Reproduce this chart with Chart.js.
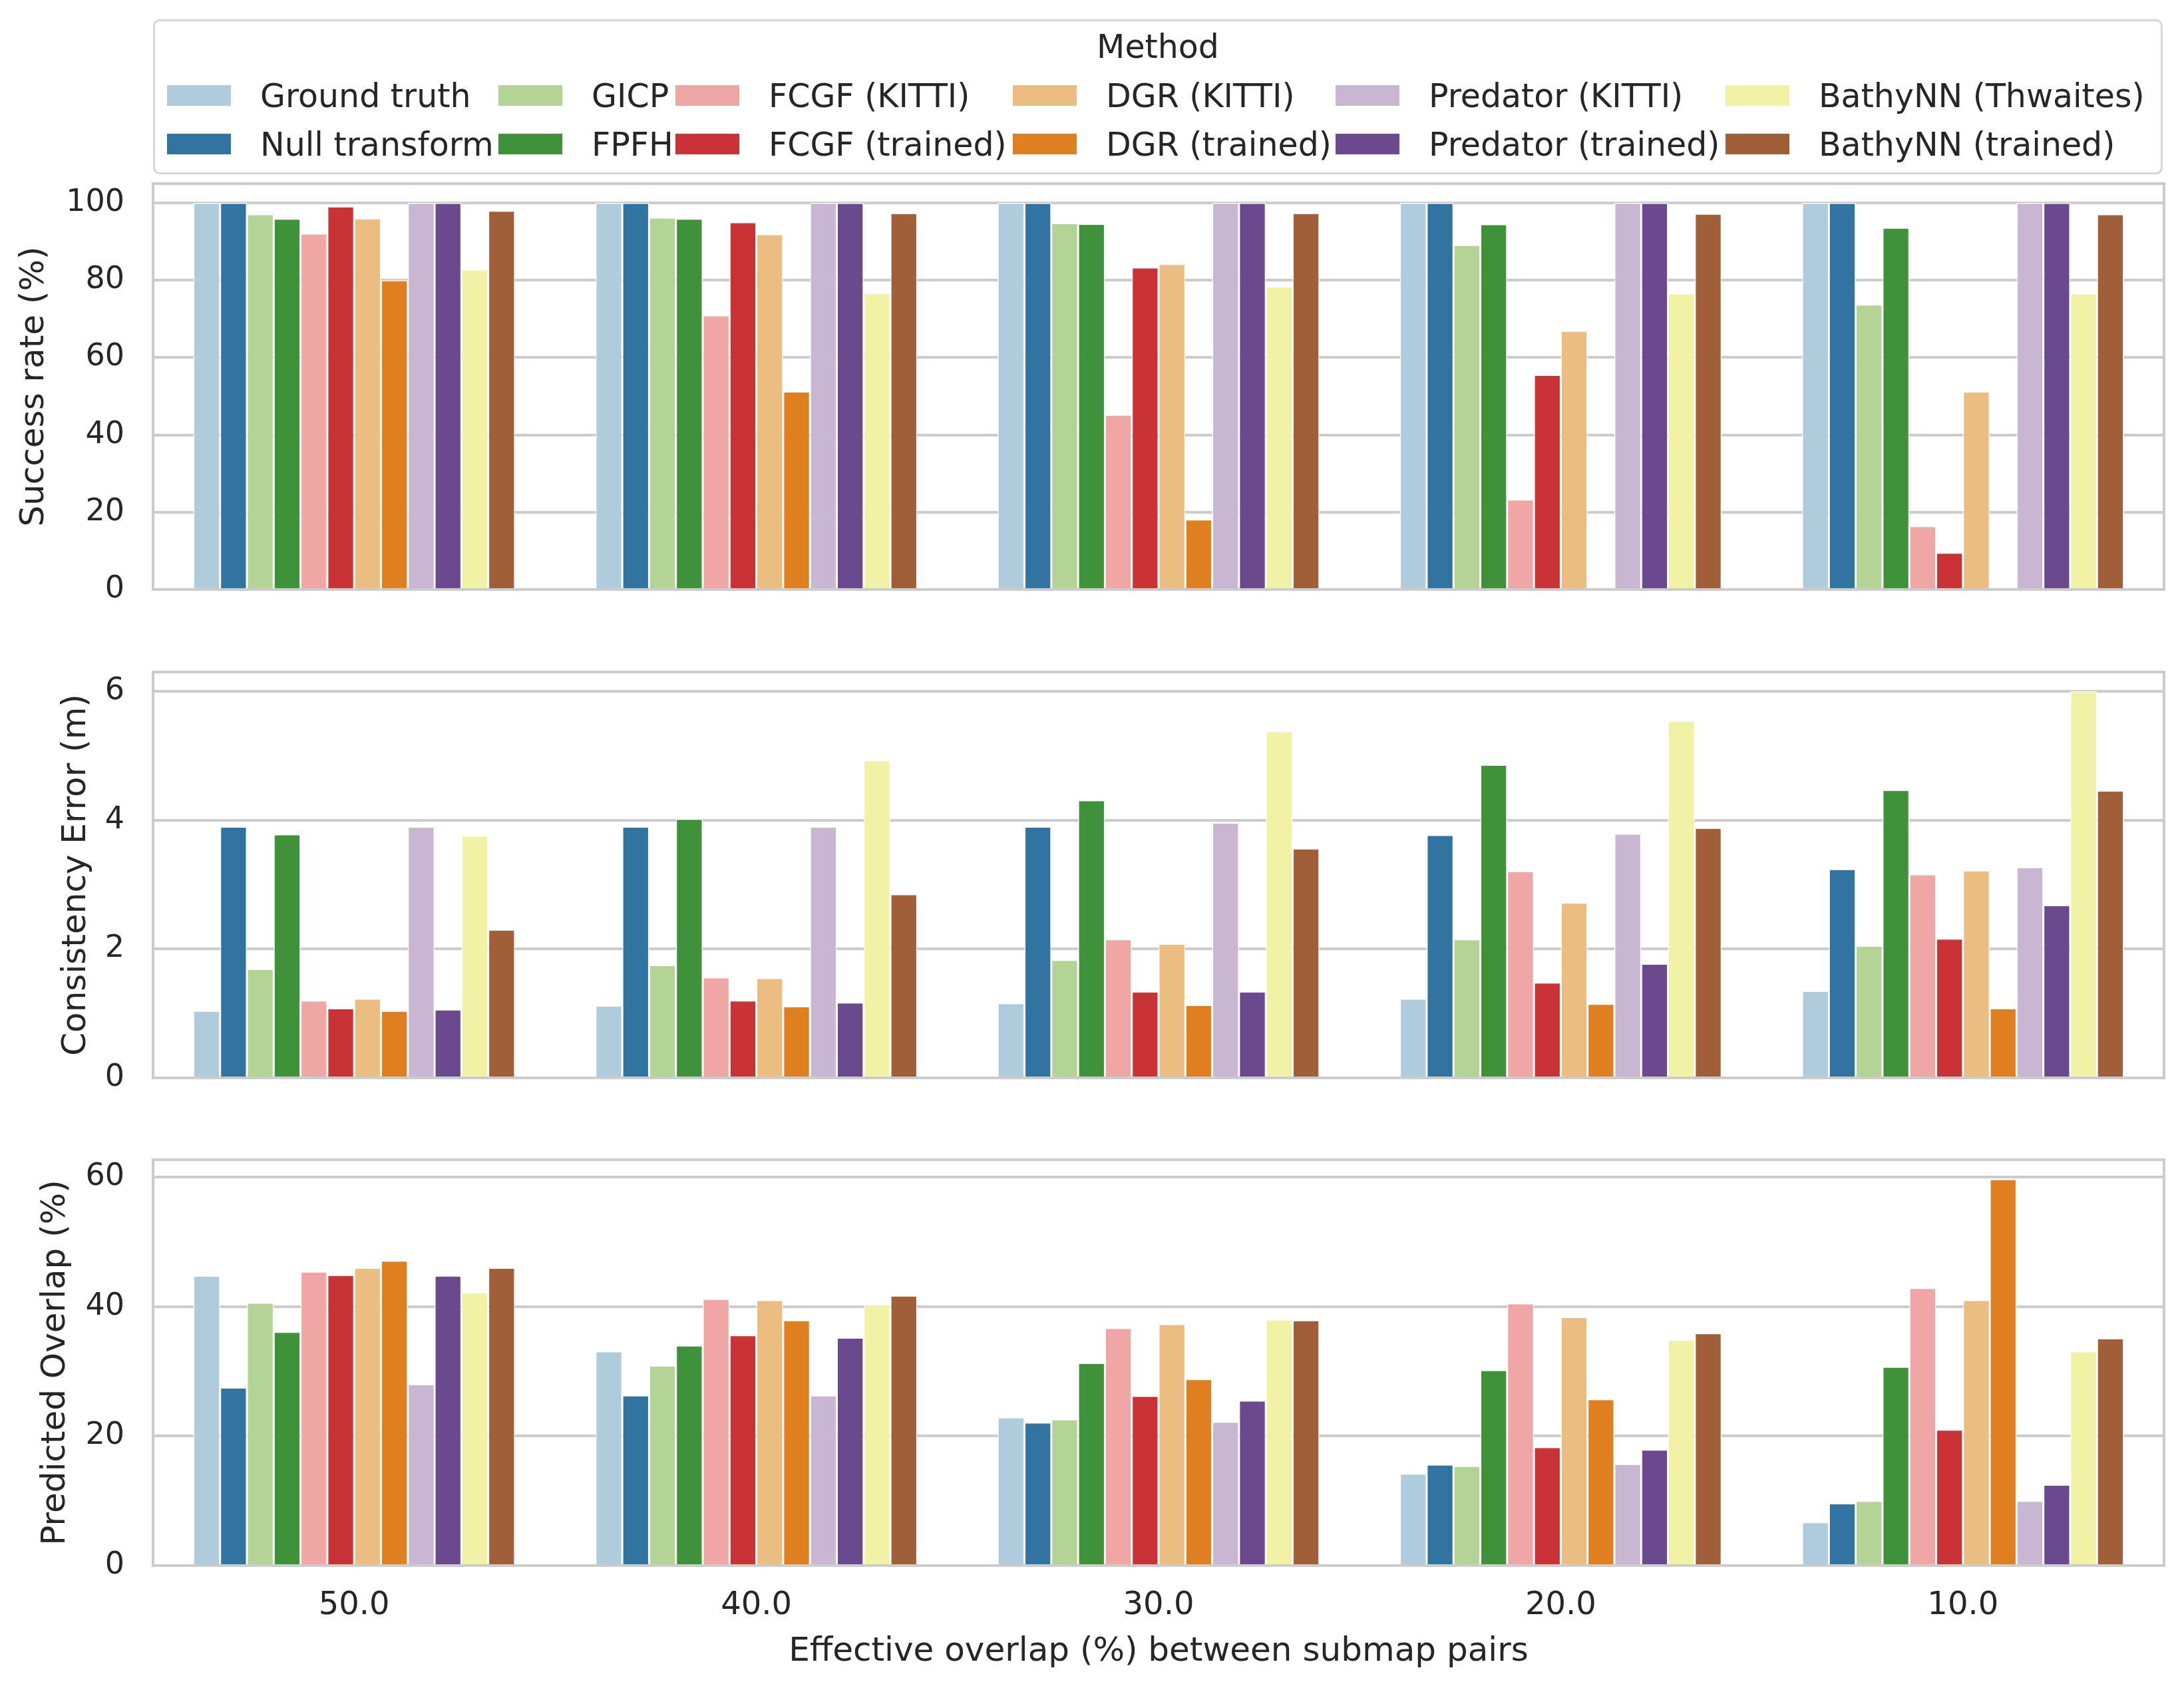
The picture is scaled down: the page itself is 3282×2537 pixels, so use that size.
<!DOCTYPE html>
<html>
<head>
<meta charset="utf-8">
<script src="https://cdn.jsdelivr.net/npm/chart.js@4.4.1/dist/chart.umd.min.js"></script>
<style>
  html, body { margin:0; padding:0; background:#fff; }
  body { width:3282px; height:2537px; position:relative; overflow:hidden; font-family:'DejaVu Sans', sans-serif; color:#262626; }
  .panel { position:absolute; left:0; width:3282px; }
  #legendBox { position:absolute; left:230px; top:29px; width:3020px; height:233px; border:3px solid #d6d6d6; border-radius:10px; box-sizing:border-box; }
  #legendTitle { position:absolute; left:230px; width:3020px; top:70px; transform:translateY(-50%); text-align:center; font-size:49px; line-height:1; }
  .sw { position:absolute; width:96px; height:31px; }
  .lb { position:absolute; font-size:49px; line-height:1; white-space:nowrap; transform:translateY(-50%); }
</style>
</head>
<body>
<div id="legendBox"></div>
<div id="legendTitle">Method</div>
<div id="legendItems"></div>
<div class="panel" id="p1" style="top:196px;height:770px"><canvas id="c1"></canvas></div>
<div class="panel" id="p2" style="top:930px;height:770px"><canvas id="c2"></canvas></div>
<div class="panel" id="p3" style="top:1663px;height:874px"><canvas id="c3"></canvas></div>
<script>
(function(){
  // x categories: effective overlap between submap pairs
  const overlaps = ['50.0','40.0','30.0','20.0','10.0'];

  const methods = ['Ground truth','Null transform','GICP','FPFH','FCGF (KITTI)','FCGF (trained)',
                   'DGR (KITTI)','DGR (trained)','Predator (KITTI)','Predator (trained)',
                   'BathyNN (Thwaites)','BathyNN (trained)'];

  // seaborn "Paired"
  const paired = ['#a6cee3','#1f78b4','#b2df8a','#33a02c','#fb9a99','#e31a1c',
                  '#fdbf6f','#ff7f00','#cab2d6','#6a3d9a','#ffff99','#b15928'];

  // one row per method, one value per overlap
  const successRate = [
    [100, 100, 100, 100, 100],
    [100, 100, 100, 100, 100],
    [97.1, 96.2, 94.8, 89.1, 73.7],
    [95.9, 95.9, 94.6, 94.5, 93.6],
    [92.1, 70.9, 45.2, 23.3, 16.4],
    [99.1, 95.0, 83.3, 55.5, 9.5],
    [96.0, 91.9, 84.2, 66.9, 51.2],
    [80.0, 51.2, 18.1, 0, 0],
    [100, 100, 100, 100, 100],
    [100, 100, 100, 100, 100],
    [82.8, 76.7, 78.4, 76.6, 76.6],
    [98.0, 97.4, 97.4, 97.2, 97.1]
  ];

  const consistencyError = [
    [1.04, 1.12, 1.16, 1.23, 1.35],
    [3.90, 3.90, 3.90, 3.77, 3.24],
    [1.69, 1.75, 1.83, 2.15, 2.05],
    [3.78, 4.02, 4.31, 4.86, 4.47],
    [1.20, 1.56, 2.15, 3.21, 3.16],
    [1.08, 1.20, 1.34, 1.48, 2.16],
    [1.23, 1.55, 2.08, 2.72, 3.22],
    [1.04, 1.11, 1.13, 1.15, 1.08],
    [3.90, 3.90, 3.96, 3.79, 3.27],
    [1.06, 1.17, 1.34, 1.77, 2.68],
    [3.76, 4.93, 5.38, 5.54, 6.00],
    [2.30, 2.85, 3.56, 3.88, 4.46]
  ];

  const predictedOverlap = [
    [44.8, 33.1, 22.9, 14.2, 6.7],
    [27.5, 26.3, 22.1, 15.6, 9.6],
    [40.6, 30.9, 22.6, 15.4, 10.0],
    [36.1, 34.0, 31.3, 30.2, 30.7],
    [45.4, 41.2, 36.7, 40.5, 42.9],
    [44.9, 35.6, 26.2, 18.3, 21.0],
    [46.0, 41.0, 37.3, 38.4, 41.0],
    [47.1, 37.9, 28.8, 25.7, 59.7],
    [28.0, 26.3, 22.2, 15.7, 10.0],
    [44.8, 35.2, 25.5, 17.9, 12.5],
    [42.2, 40.3, 38.0, 34.9, 33.1],
    [46.0, 41.7, 37.9, 35.9, 35.1]
  ];

  const TEXT = '#262626';
  const GRID = '#cccccc';
  const FONT = "'DejaVu Sans', sans-serif";

  // seaborn desaturates bar colours to 0.75
  function desat(hex, prop){
    let r = parseInt(hex.substr(1,2),16)/255, g = parseInt(hex.substr(3,2),16)/255, b = parseInt(hex.substr(5,2),16)/255;
    const mx = Math.max(r,g,b), mn = Math.min(r,g,b);
    const l = (mx+mn)/2;
    let h = 0, s = 0;
    if(mx !== mn){
      const d = mx - mn;
      s = l <= 0.5 ? d/(mx+mn) : d/(2-mx-mn);
      if(mx === r) h = (g-b)/d;
      else if(mx === g) h = 2 + (b-r)/d;
      else h = 4 + (r-g)/d;
      h = ((h/6) % 1 + 1) % 1;
    }
    s *= prop;
    function v(m1, m2, hue){
      hue = ((hue % 1) + 1) % 1;
      if(hue < 1/6) return m1 + (m2-m1)*hue*6;
      if(hue < 0.5) return m2;
      if(hue < 2/3) return m1 + (m2-m1)*(2/3-hue)*6;
      return m1;
    }
    if(s === 0){ r = g = b = l; }
    else{
      const m2 = l <= 0.5 ? l*(1+s) : l+s-l*s;
      const m1 = 2*l - m2;
      r = v(m1, m2, h+1/3); g = v(m1, m2, h); b = v(m1, m2, h-1/3);
    }
    const to = x => Math.round(x*255).toString(16).padStart(2,'0');
    return '#' + to(r) + to(g) + to(b);
  }

  const colors = paired.map(c => desat(c, 0.75));

  function buildLegend(){
    const swX = [251, 749, 1015, 1522, 2007, 2593];
    const rowY = [143.5, 216.5];
    const box = document.getElementById('legendItems');
    let html = '';
    methods.forEach((m, i) => {
      const col = Math.floor(i/2), row = i % 2;
      html += `<div class="sw" style="left:${swX[col]}px;top:${rowY[row]-15.5}px;background:${colors[i]}"></div>`;
      html += `<div class="lb" style="left:${swX[col]+140}px;top:${rowY[row]}px">${m}</div>`;
    });
    box.innerHTML = html;
  }

  const framePlugin = {
    id: 'frame',
    afterDatasetsDraw(chart){
      const { ctx, chartArea: a } = chart;
      ctx.save();
      ctx.strokeStyle = GRID;
      ctx.lineWidth = 4;
      ctx.strokeRect(a.left, a.top, a.right - a.left, a.bottom - a.top);
      ctx.restore();
    }
  };

  function makePanel(canvasId, values, yTitle, yMax, step, titlePad, showX){
    const datasets = methods.map((m, i) => ({
      label: m,
      data: values[i],
      backgroundColor: colors[i],
      borderColor: '#ffffff',
      borderWidth: { top: 1.5, left: 1.5, right: 1.5, bottom: 0 },
      categoryPercentage: 0.8,
      barPercentage: 1.0
    }));

    return new Chart(document.getElementById(canvasId), {
      type: 'bar',
      data: { labels: overlaps, datasets },
      options: {
        responsive: true,
        maintainAspectRatio: false,
        animation: false,
        devicePixelRatio: 1,
        // y tick padding adds to the scale's own top/bottom padding, so keep 80 here
        layout: { padding: { left: 0, right: 30, top: 80, bottom: showX ? 10 : 80 } },
        plugins: { legend: { display: false }, tooltip: { enabled: false } },
        scales: {
          x: {
            display: showX,
            grid: { display: false, drawTicks: false },
            border: { display: false },
            ticks: { color: TEXT, font: { family: FONT, size: 48 }, padding: 32, maxRotation: 0 },
            title: { display: showX, text: 'Effective overlap (%) between submap pairs', color: TEXT,
                     font: { family: FONT, size: 50 }, padding: { top: 0, bottom: 14 } },
            afterFit: s => { if(showX) s.height = 174; }
          },
          y: {
            min: 0,
            max: yMax,
            grid: { color: GRID, lineWidth: 4, drawTicks: false },
            border: { display: false },
            ticks: { stepSize: step, includeBounds: false, color: TEXT, font: { family: FONT, size: 46 }, padding: 43 },
            title: { display: true, text: yTitle, color: TEXT, font: { family: FONT, size: 50 }, padding: { top: titlePad, bottom: 0 } },
            afterFit: s => { s.width = 230; }
          }
        }
      },
      plugins: [framePlugin]
    });
  }

  buildLegend();
  makePanel('c1', successRate, 'Success rate (%)', 105, 20, 22, false);
  makePanel('c2', consistencyError, 'Consistency Error (m)', 6.3, 2, 85, false);
  makePanel('c3', predictedOverlap, 'Predicted Overlap (%)', 62.7, 20, 54, true);
})();
</script>
</body>
</html>
